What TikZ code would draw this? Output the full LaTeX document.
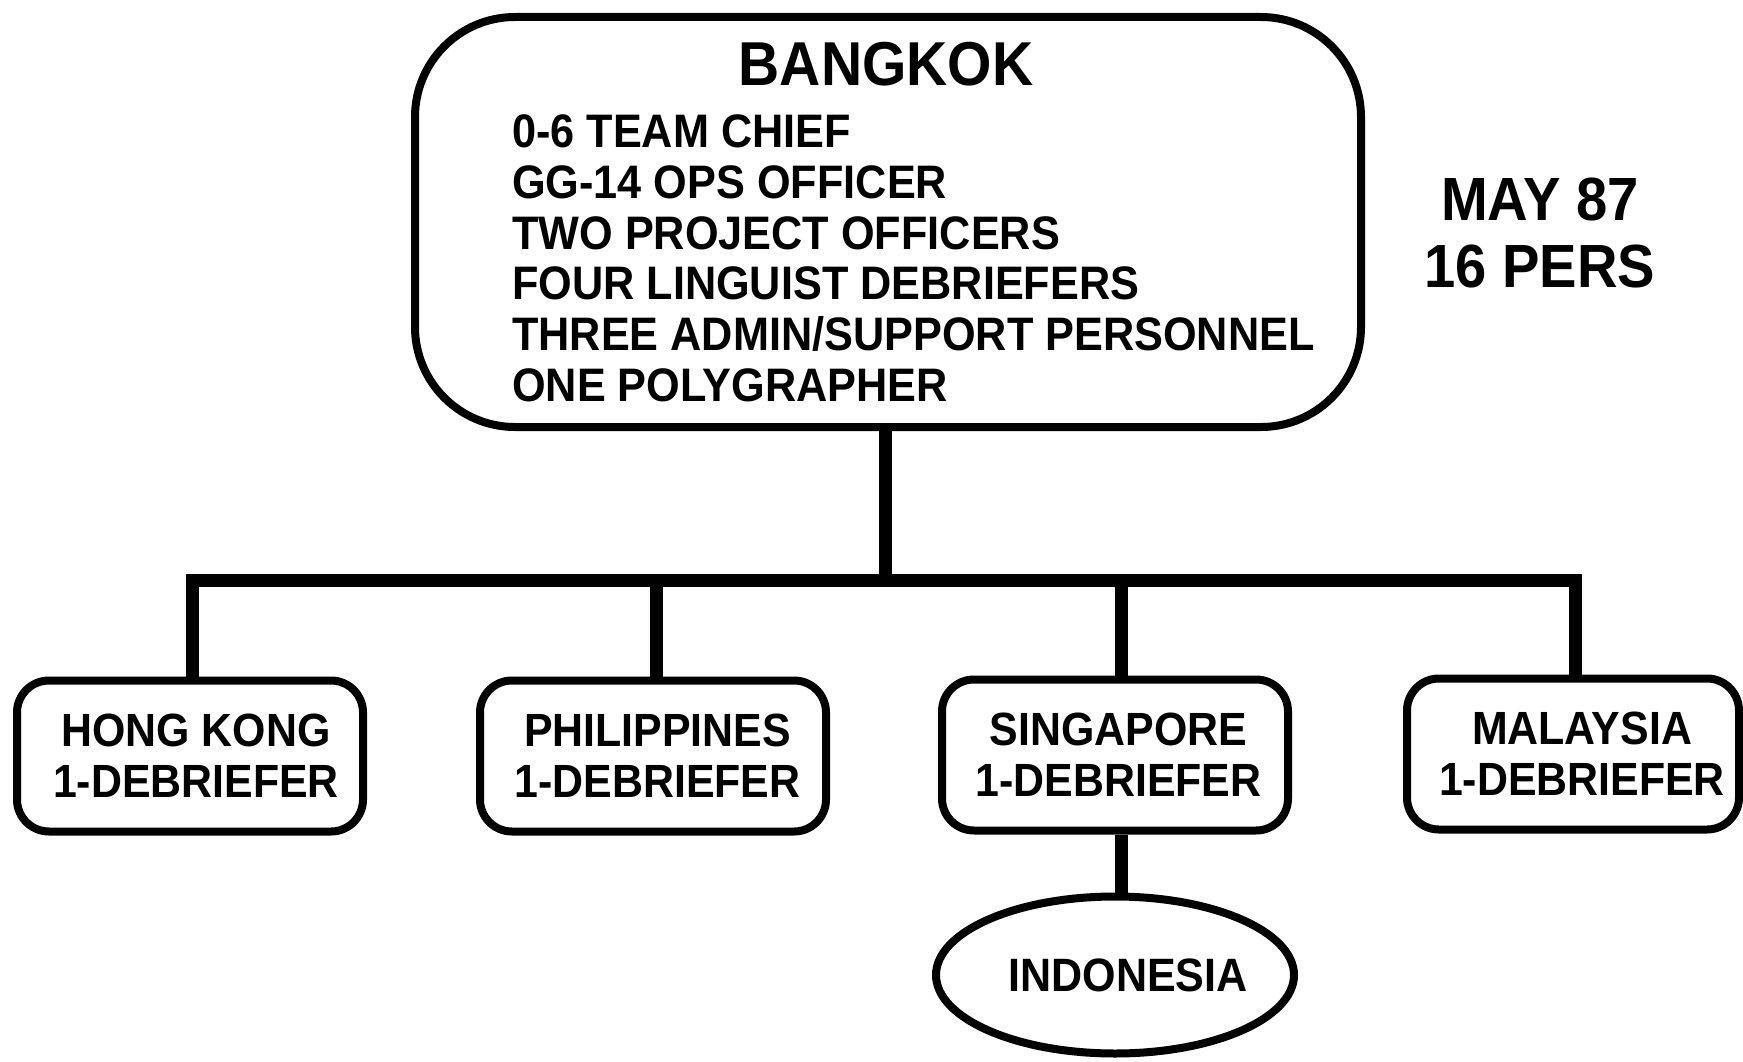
\documentclass[tikz,border=0pt]{standalone}
\usepackage{fontspec}
\setmainfont{Liberation Sans}[FakeStretch=0.92]
\usetikzlibrary{shapes.geometric}
\begin{document}
\begin{tikzpicture}[x=1pt,y=-1pt,
  smallbox/.style={draw, line width=8pt, rounded corners=32pt, minimum width=346pt,
    minimum height=151pt, inner sep=0pt, align=center,
    font=\fontsize{46.6}{51}\selectfont\bfseries},
  listline/.style={anchor=base west, inner sep=0pt, font=\fontsize{47}{50}\selectfont\bfseries},
  datetxt/.style={anchor=base, inner sep=0pt, font=\fontsize{61}{66}\selectfont\bfseries},
  link/.style={line width=13pt, line join=miter}]
\useasboundingbox (0,0) rectangle (1743,1062);
% top box
\node[draw, line width=8pt, rounded corners=100pt, minimum width=946pt, minimum height=410pt, inner sep=0pt] (top) at (888,222) {};
\node[anchor=base, inner sep=0pt, font=\fontsize{62}{66}\selectfont\bfseries] (title) at (886,86) {BANGKOK};
\node[listline] (l1) at (512,147) {0-6 TEAM CHIEF};
\node[listline] (l2) at (512,198) {GG-14 OPS OFFICER};
\node[listline] (l3) at (512,249) {TWO PROJECT OFFICERS};
\node[listline] (l4) at (512,299) {FOUR LINGUIST DEBRIEFERS};
\node[listline] (l5) at (512,350) {THREE ADMIN/SUPPORT PERSONNEL};
\node[listline] (l6) at (512,401) {ONE POLYGRAPHER};
\node[datetxt] (may) at (1540,220) {MAY 87};
\node[datetxt] (pers) at (1540,287) {16 PERS};
% small boxes
\node[smallbox] (hk) at (190,756) {\hspace*{12pt}HONG KONG\\\hspace*{12pt}1-DEBRIEFER};
\node[smallbox] (ph) at (653,756) {\hspace*{9pt}PHILIPPINES\\\hspace*{9pt}1-DEBRIEFER};
\node[smallbox] (sg) at (1115,755) {\hspace*{7pt}SINGAPORE\\\hspace*{7pt}1-DEBRIEFER};
\node[smallbox, minimum width=332pt] (my) at (1573,754) {\hspace*{18pt}MALAYSIA\\\hspace*{18pt}1-DEBRIEFER};
\node[draw, ellipse, line width=8pt, minimum width=358pt, minimum height=157pt, inner sep=0pt,
  font=\fontsize{46.8}{51}\selectfont\bfseries] (ind) at (1115,975) {\makebox[0pt]{\hspace{26pt}INDONESIA}};
% connectors
\coordinate (bus) at (885,580);
\coordinate (d1) at (192,580);
\coordinate (d2) at (656,580);
\coordinate (d3) at (1121,580);
\coordinate (d4) at (1575,580);
\draw[link] (top.south -| bus) -- (bus);
\draw[link] (d1 |- hk.north) -- (d1) -- (d4) -- (d4 |- my.north);
\draw[link] (d2) -- (d2 |- ph.north);
\draw[link] (d3) -- (d3 |- sg.north);
\draw[link] (d3 |- sg.south) -- (d3 |- ind.north);
\end{tikzpicture}
\end{document}
